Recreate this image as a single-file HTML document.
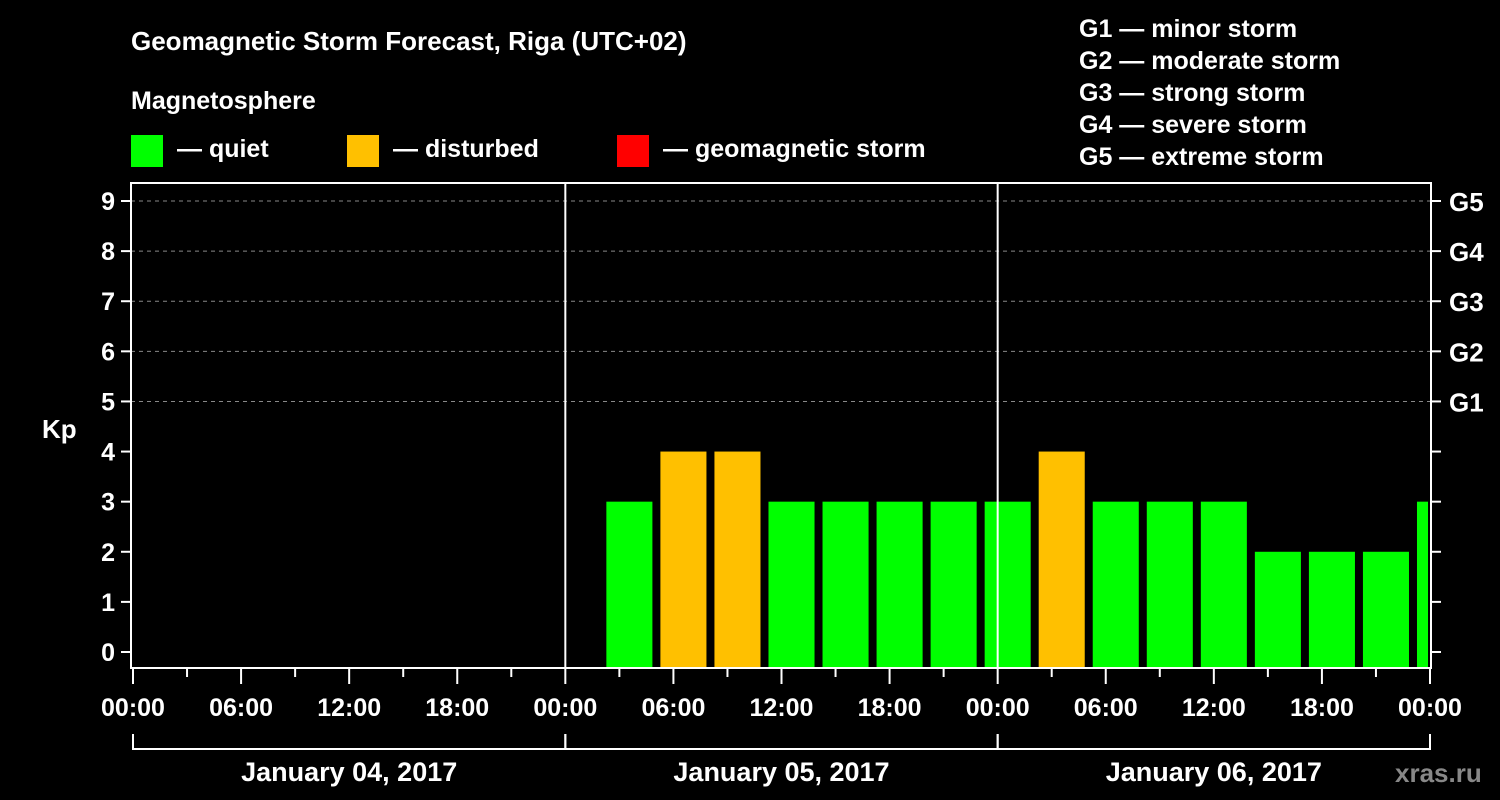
<!DOCTYPE html>
<html><head><meta charset="utf-8"><style>
html,body{margin:0;padding:0;background:#000;}
svg{display:block;font-family:"Liberation Sans",Arial,sans-serif;font-weight:bold;}
</style></head><body>
<svg id="chart" width="1500" height="800" viewBox="0 0 1500 800">
<rect width="1500" height="800" fill="#000"/>
<text x="131" y="50" fill="#fff" font-size="26">Geomagnetic Storm Forecast, Riga (UTC+02)</text>
<text x="131" y="109" fill="#fff" font-size="25">Magnetosphere</text>
<g><rect x="131" y="135" width="32" height="32" fill="#00ff00"/><text x="177" y="157" fill="#fff" font-size="25">— quiet</text></g>
<g><rect x="347" y="135" width="32" height="32" fill="#ffc000"/><text x="393" y="157" fill="#fff" font-size="25">— disturbed</text></g>
<g><rect x="617" y="135" width="32" height="32" fill="#ff0000"/><text x="663" y="157" fill="#fff" font-size="25">— geomagnetic storm</text></g>
<g fill="#fff" font-size="25">
<text x="1079" y="37">G1 — minor storm</text>
<text x="1079" y="69">G2 — moderate storm</text>
<text x="1079" y="101">G3 — strong storm</text>
<text x="1079" y="133">G4 — severe storm</text>
<text x="1079" y="165">G5 — extreme storm</text>
</g>
<text x="42" y="438" fill="#fff" font-size="26">Kp</text>
<text x="1395" y="782" fill="#888" font-size="26">xras.ru</text>
<g id="grid"></g><g id="bars"></g><g id="axes"></g>
</svg>
<script>
const kpValues=[3,4,4,3,3,3,3,3,4,3,3,3,2,2,2,3];
const firstBinHour=26;
const binHours=3;
const yTicks=[0,1,2,3,4,5,6,7,8,9];
const gLabels=["","","","","","G1","G2","G3","G4","G5"];
const xTickLabels=["00:00","06:00","12:00","18:00","00:00","06:00","12:00","18:00","00:00","06:00","12:00","18:00","00:00"];
const dayLabels=["January 04, 2017","January 05, 2017","January 06, 2017"];
const L=131,R=1431,T=183,B=668,H0=652,H9=201,TOTAL=72;
const x=h=>133+h*(1430-133)/TOTAL;
const y=k=>H0-k*(H0-H9)/9;
const NS="http://www.w3.org/2000/svg";
function mk(tag,attrs,parent,txt){const e=document.createElementNS(NS,tag);for(const k in attrs)e.setAttribute(k,attrs[k]);if(txt!=null)e.textContent=txt;parent.appendChild(e);return e;}
const grid=document.getElementById('grid'),bars=document.getElementById('bars'),axes=document.getElementById('axes');
yTicks.forEach(k=>{
  if(k>=5){const g=mk('line',{x1:L,x2:R,y1:y(k),y2:y(k),stroke:'#888','stroke-width':1,'stroke-dasharray':'4,4'},grid);
  
  }
  mk('line',{x1:L-10,x2:L,y1:y(k),y2:y(k),stroke:'#fff','stroke-width':2},axes);
  mk('line',{x1:R,x2:R+10,y1:y(k),y2:y(k),stroke:'#fff','stroke-width':2},axes);
  const t=mk('text',{x:L-16,y:y(k)+9,fill:'#fff','font-size':25,'text-anchor':'end'},axes,String(k));
  
  
  if(gLabels[k]){const g2=mk('text',{x:R+18,y:y(k)+10,fill:'#fff','font-size':26},axes,gLabels[k]);
  
  }
});
kpValues.forEach((v,i)=>{
  const s=firstBinHour+i*binHours;
  const x0=x(s)+5;let x1=x(s+binHours)-3;if(x1>1428)x1=1428;
  const col=v>=5?'#ff0000':(v>=4?'#ffc000':'#00ff00');
  const r=mk('rect',{x:x0,y:y(v),width:x1-x0,height:667-y(v),fill:col},bars);
  
  
});
// day separators
[24,48].forEach(h=>mk('line',{x1:x(h),x2:x(h),y1:T,y2:B,stroke:'#fff','stroke-width':2},axes));
const frame=mk('rect',{x:L,y:T,width:R-L,height:B-T,fill:'none',stroke:'#fff','stroke-width':2},axes);


for(let h=0;h<=TOTAL;h+=3){
  const major=h%6===0;
  mk('line',{x1:x(h),x2:x(h),y1:B,y2:B+(major?16:9),stroke:'#fff','stroke-width':2},axes);
}
xTickLabels.forEach((lab,i)=>{
  const t=mk('text',{x:x(i*6),y:716,fill:'#fff','font-size':25,'text-anchor':'middle'},axes,lab);
  
  
});
dayLabels.forEach((d,i)=>{
  const a=x(i*24),b=x(i*24+24);
  mk('path',{d:`M${a},734 V749 H${b} V734`,fill:'none',stroke:'#fff','stroke-width':2},axes);
  const t=mk('text',{x:(a+b)/2,y:781,fill:'#fff','font-size':27,'text-anchor':'middle'},axes,d);
  
  
});
</script>
</body></html>
